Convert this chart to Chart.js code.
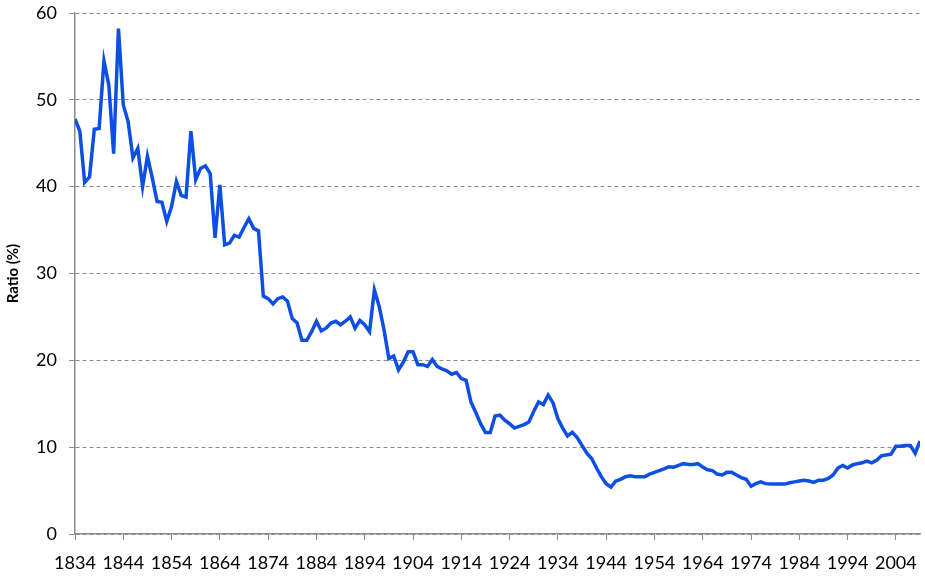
<html><head><meta charset="UTF-8"/>
<title>Ratio (%)</title>
<script src="https://cdn.jsdelivr.net/npm/chart.js"></script>
<style>
* { margin: 0; padding: 0; box-sizing: border-box; }
body { background: #ffffff; }
.chart-box { width: 925px; height: 576px; }
</style>
</head>
<body>
<div class="chart-box"><canvas id="ratioChart"></canvas></div>
<script>
// yearly values, starting in 1834
const firstYear = 1834;
const ratio = [
    47.8, 46.4, 40.5, 41.1, 46.6, 46.7, 54.5, 51.7, 43.8, 58.2,   // 1834-1843
    49.4, 47.5, 43.3, 44.4, 40.0, 43.5, 41.0, 38.3, 38.2, 36.0,   // 1844-1853
    37.7, 40.6, 39.0, 38.8, 46.4, 40.8, 42.1, 42.4, 41.5, 34.1,   // 1854-1863
    40.2, 33.3, 33.5, 34.4, 34.2, 35.3, 36.3, 35.2, 34.9, 27.4,   // 1864-1873
    27.1, 26.5, 27.1, 27.3, 26.8, 24.8, 24.3, 22.3, 22.3, 23.3,   // 1874-1883
    24.5, 23.4, 23.7, 24.3, 24.5, 24.1, 24.5, 25.0, 23.7, 24.6,   // 1884-1893
    24.1, 23.3, 28.1, 26.2, 23.5, 20.2, 20.5, 18.9, 19.8, 21.0,   // 1894-1903
    21.0, 19.5, 19.5, 19.3, 20.1, 19.3, 19.0, 18.8, 18.4, 18.6,   // 1904-1913
    17.9, 17.7, 15.2, 14.0, 12.7, 11.7, 11.7, 13.6, 13.7, 13.1,   // 1914-1923
    12.7, 12.2, 12.4, 12.6, 12.9, 14.1, 15.2, 14.9, 16.0, 15.1,   // 1924-1933
    13.3, 12.2, 11.3, 11.7, 11.1, 10.2, 9.3, 8.7, 7.6, 6.6,       // 1934-1943
    5.8, 5.4, 6.1, 6.3, 6.6, 6.7, 6.6, 6.6, 6.6, 6.9,             // 1944-1953
    7.1, 7.3, 7.5, 7.75, 7.7, 7.9, 8.1, 8.0, 8.0, 8.1,            // 1954-1963
    7.7, 7.4, 7.3, 6.9, 6.8, 7.1, 7.1, 6.8, 6.5, 6.3,             // 1964-1973
    5.5, 5.8, 6.0, 5.8, 5.75, 5.75, 5.75, 5.75, 5.9, 6.0,         // 1974-1983
    6.1, 6.2, 6.1, 5.95, 6.2, 6.2, 6.4, 6.8, 7.6, 7.9,            // 1984-1993
    7.6, 7.95, 8.1, 8.2, 8.4, 8.2, 8.5, 9.0, 9.1, 9.2,            // 1994-2003
    10.1, 10.1, 10.2, 10.2, 9.3, 10.7                             // 2004-2009
];
const tickYears = [1834, 1844, 1854, 1864, 1874, 1884, 1894, 1904, 1914,
                   1924, 1934, 1944, 1954, 1964, 1974, 1984, 1994, 2004];
const yTicks = [0, 10, 20, 30, 40, 50, 60];

const axisGray = '#8c8c8c';
const tickFont = { family: 'Lato', size: 18 };

const points = ratio.map((v, i) => ({ x: firstYear + i, y: v }));

new Chart(document.getElementById('ratioChart'), {
    type: 'line',
    data: {
        datasets: [{
            label: 'Ratio (%)',
            data: points,
            borderColor: '#0d4fe3',
            borderWidth: 3.5,
            pointRadius: 0,
            tension: 0,
            fill: false
        }]
    },
    options: {
        responsive: true,
        maintainAspectRatio: false,
        animation: false,
        layout: { padding: { top: 13, right: 5, left: 0, bottom: 0 } },
        plugins: {
            legend: { display: false },
            tooltip: { enabled: false }
        },
        scales: {
            x: {
                type: 'linear',
                min: firstYear,
                max: firstYear + ratio.length - 1,
                afterBuildTicks: axis => { axis.ticks = tickYears.map(v => ({ value: v })); },
                afterFit: axis => { axis.height = 42; axis.paddingLeft = 0; axis.paddingRight = 0; },
                grid: { drawOnChartArea: false, color: axisGray, tickLength: 6 },
                border: { color: axisGray, width: 1.5 },
                ticks: {
                    autoSkip: false,
                    maxRotation: 0,
                    color: '#000',
                    font: tickFont,
                    padding: 12,
                    callback: v => String(v)
                }
            },
            y: {
                min: 0,
                max: 60,
                afterBuildTicks: axis => { axis.ticks = yTicks.map(v => ({ value: v })); },
                afterFit: axis => { axis.width = 75; axis.paddingTop = 0; axis.paddingBottom = 0; },
                grid: { color: axisGray, tickLength: 6, tickBorderDash: [] },
                border: { color: axisGray, width: 1.5, dash: [4, 3] },
                ticks: { color: '#000', font: tickFont, padding: 12 },
                title: {
                    display: true,
                    text: 'Ratio (%)',
                    color: '#000',
                    font: { family: 'Lato', size: 15, weight: 'bold' },
                    padding: { top: 4, bottom: 0 }
                }
            }
        }
    }
});
</script>
</body></html>
